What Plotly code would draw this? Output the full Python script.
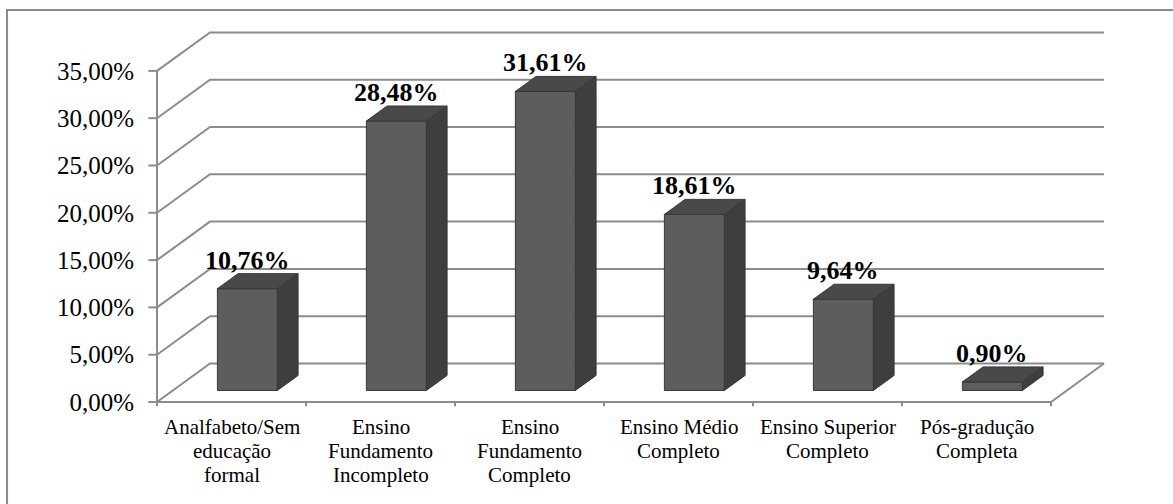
import plotly.graph_objects as go

# Education level distribution (percent of respondents)
categories = [
    ["Analfabeto/Sem", "educação", "formal"],
    ["Ensino", "Fundamento", "Incompleto"],
    ["Ensino", "Fundamento", "Completo"],
    ["Ensino Médio", "Completo"],
    ["Ensino Superior", "Completo"],
    ["Pós-gradução", "Completa"],
]
values = [10.76, 28.48, 31.61, 18.61, 9.64, 0.90]
y_ticks = [0, 5, 10, 15, 20, 25, 30, 35]

# Pseudo-3D geometry expressed in axis units (x: category units, y: percent)
WALL_DX = 53 / 149        # depth offset of the back wall along x
WALL_DY = 38.5 / 9.46     # depth offset of the back wall along y
BAR_W = 0.403             # bar width in category units
D0, D1 = 0.30, 0.69       # bar front/back position as fraction of depth

GRID = "#8c8c8c"
FRONT = "#5d5d5d"
TOP = "#494949"
SIDE = "#3e3e3e"
EDGE = "#383838"
FONT = "'Liberation Serif', 'Times New Roman', Tinos, serif"


def pct(v):
    return f"{v:.2f}".replace(".", ",") + "%"


fig = go.Figure()

# Back wall gridlines: diagonal on the left side wall, then across the back wall
gx, gy = [], []
n = len(values)
for v in y_ticks:
    gx += [0, WALL_DX, n + WALL_DX, None]
    gy += [v, v + WALL_DY, v + WALL_DY, None]
fig.add_trace(go.Scatter(x=gx, y=gy, mode="lines",
                         line=dict(color=GRID, width=2), hoverinfo="skip"))

# Floor front edge and right edge
fig.add_trace(go.Scatter(x=[0, n, n + WALL_DX], y=[0, 0, WALL_DY], mode="lines",
                         line=dict(color=GRID, width=2), hoverinfo="skip"))

# Vertical value axis and its tick marks
ax_x, ax_y = [0, 0, None], [0, y_ticks[-1], None]
for v in y_ticks:
    ax_x += [-0.058, 0, None]
    ax_y += [v, v, None]
fig.add_trace(go.Scatter(x=ax_x, y=ax_y, mode="lines",
                         line=dict(color=GRID, width=2), hoverinfo="skip"))

# Category tick marks under the floor edge
tx, ty = [], []
for i in range(n + 1):
    tx += [i, i, None]
    ty += [0, -0.45, None]
fig.add_trace(go.Scatter(x=tx, y=ty, mode="lines",
                         line=dict(color=GRID, width=2), hoverinfo="skip"))

# Columns: front, top and side faces
ox0, oy0 = D0 * WALL_DX, D0 * WALL_DY
ox1, oy1 = D1 * WALL_DX, D1 * WALL_DY
ddx, ddy = ox1 - ox0, oy1 - oy0
for i, v in enumerate(values):
    xl = i + 0.5 - BAR_W / 2 + ox0
    xr = i + 0.5 + BAR_W / 2 + ox0
    faces = [
        ([xl, xr, xr, xl, xl], [oy0, oy0, v + oy0, v + oy0, oy0], FRONT),
        ([xl, xr, xr + ddx, xl + ddx, xl],
         [v + oy0, v + oy0, v + oy1, v + oy1, v + oy0], TOP),
        ([xr, xr + ddx, xr + ddx, xr, xr],
         [oy0, oy1, v + oy1, v + oy0, oy0], SIDE),
    ]
    for fx, fy, col in faces:
        fig.add_trace(go.Scatter(x=fx, y=fy, mode="lines", fill="toself",
                                 fillcolor=col, line=dict(color=EDGE, width=1),
                                 hoverinfo="skip"))
    # value label above the column
    fig.add_annotation(x=i + 0.5 + ox0, y=v + oy1, xref="x", yref="y",
                       text=f"<b>{pct(v)}</b>", showarrow=False,
                       yanchor="bottom", yshift=-3,
                       font=dict(family=FONT, size=26, color="black"))

# Category labels, one annotation per line
for i, lines in enumerate(categories):
    for k, line in enumerate(lines):
        fig.add_annotation(x=i + 0.5, y=0, xref="x", yref="y", text=line,
                           showarrow=False, yanchor="middle",
                           yshift=-(25 + 24 * k),
                           font=dict(family=FONT, size=21, color="black"))

# Chart frame
fig.add_shape(type="rect", xref="paper", yref="paper",
              x0=-0.1458, x1=1.3, y0=-0.5, y1=1.0526,
              line=dict(color="#8a8a8a", width=2), layer="below")

fig.update_layout(
    width=1173, height=504, autosize=False,
    margin=dict(l=147, r=66, t=30, b=94),
    paper_bgcolor="white", plot_bgcolor="white",
    showlegend=False,
    xaxis=dict(range=[-10 / 149, -10 / 149 + 960 / 149], visible=False,
               fixedrange=True),
    yaxis=dict(range=[-8 / 9.46, 372 / 9.46], showgrid=False, zeroline=False,
               showline=False, ticks="", tickvals=y_ticks,
               ticktext=[pct(v) for v in y_ticks], ticklabelstandoff=12,
               tickfont=dict(family=FONT, size=25, color="black"),
               fixedrange=True),
)

fig.write_html("out.html")
